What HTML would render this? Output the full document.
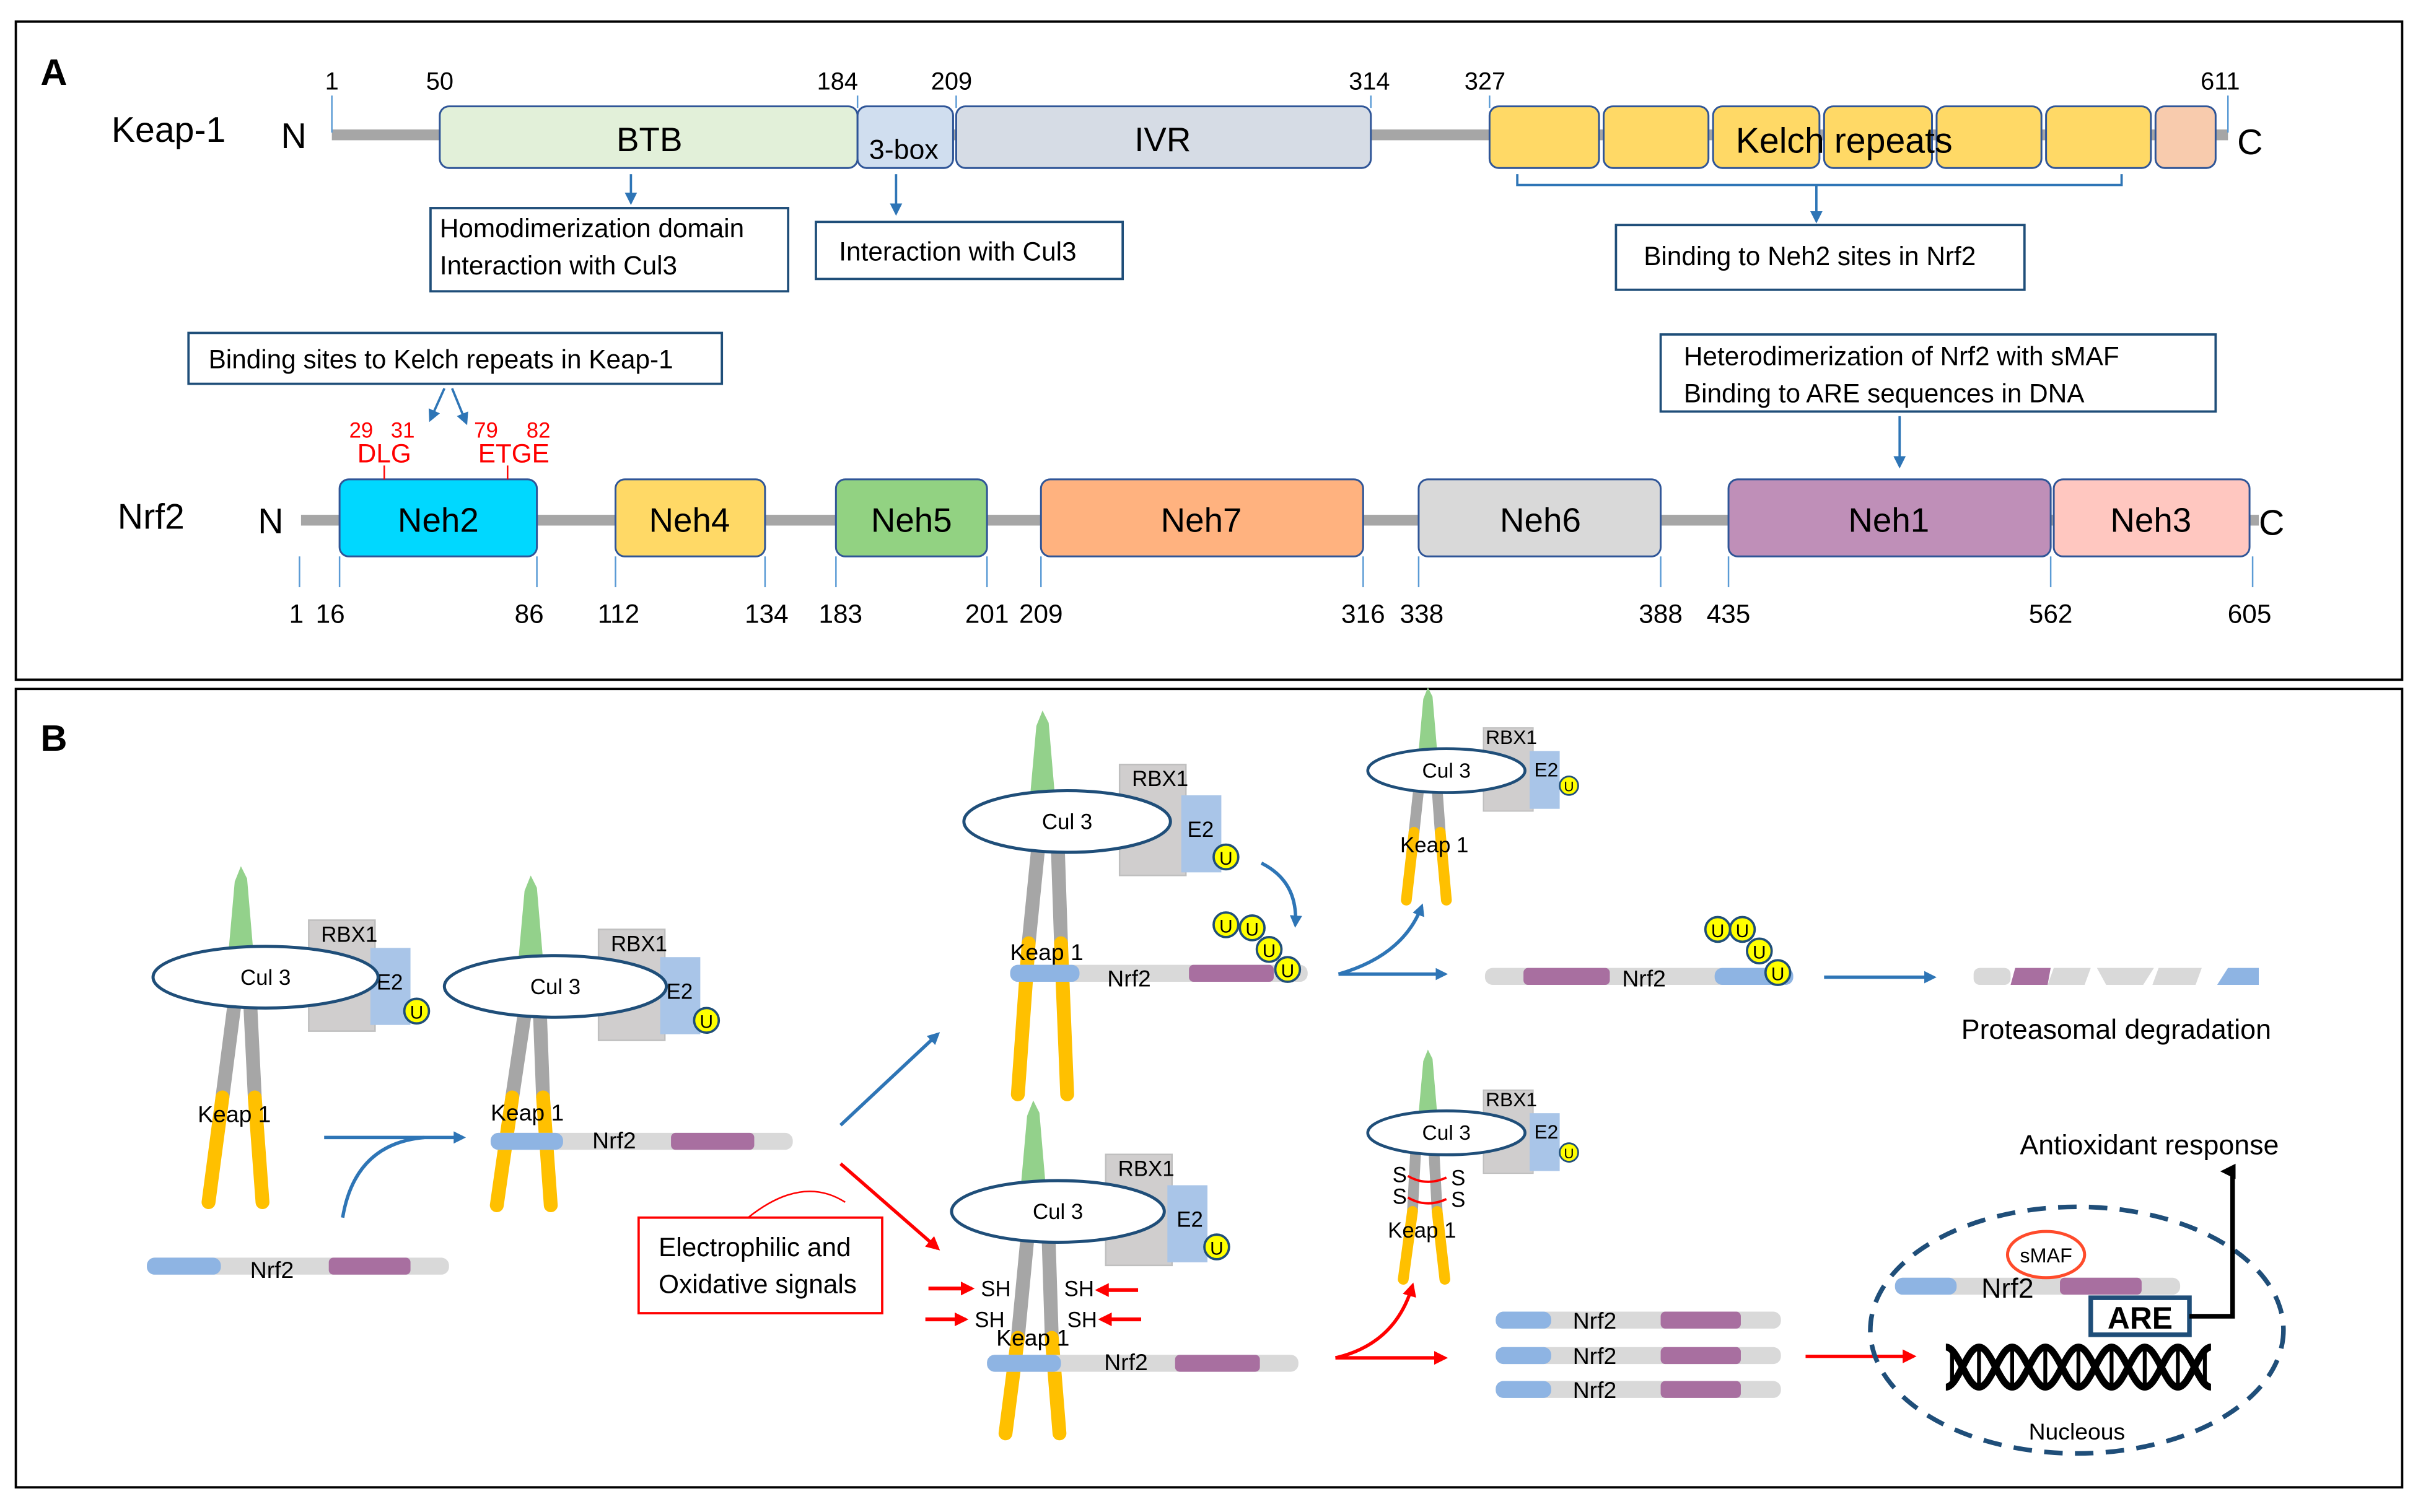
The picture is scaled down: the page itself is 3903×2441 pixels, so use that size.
<!DOCTYPE html>
<html><head><meta charset="utf-8"><style>html,body{margin:0;padding:0;background:#fff}svg{display:block}text{font-family:"Liberation Sans",sans-serif}</style></head><body>
<svg width="3903" height="2441" viewBox="0 0 1568 981" xmlns="http://www.w3.org/2000/svg">
<defs>
<marker id="ab" markerWidth="8" markerHeight="8" refX="6" refY="4" orient="auto" markerUnits="userSpaceOnUse"><path d="M0,0 L8,4 L0,8 Z" fill="#2e75b6"/></marker>
<marker id="ar" markerWidth="9" markerHeight="9" refX="7" refY="4.5" orient="auto" markerUnits="userSpaceOnUse"><path d="M0,0 L9,4.5 L0,9 Z" fill="#ff0000"/></marker>
<marker id="ak" markerWidth="10" markerHeight="10" refX="5" refY="8" orient="auto" markerUnits="userSpaceOnUse"><path d="M0,10 L5,0 L10,10 Z" fill="#000"/></marker>
</defs>
<rect width="1568" height="981" fill="#fff"/>
<rect x="10" y="14" width="1548" height="427" fill="none" stroke="#000" stroke-width="1.5"/>
<rect x="10" y="447" width="1548" height="518" fill="none" stroke="#000" stroke-width="1.5"/>
<text x="26" y="55" font-size="24" font-weight="bold">A</text>
<text x="26" y="487" font-size="24" font-weight="bold">B</text>

<!-- Keap-1 -->
<text x="72" y="92" font-size="23">Keap-1</text>
<text x="182" y="96" font-size="23">N</text>
<text x="1451" y="100" font-size="23">C</text>
<rect x="215" y="84" width="1230" height="7" fill="#a6a6a6"/>
<g stroke="#2f5597" stroke-width="1.2">
<rect x="285" y="69" width="271" height="40" rx="6" fill="#e2f0d9"/>
<rect x="556" y="69" width="62" height="40" rx="6" fill="#d0deef"/>
<rect x="620" y="69" width="269" height="40" rx="6" fill="#d6dce5"/>
<rect x="966" y="69" width="71" height="40" rx="6" fill="#ffd966"/>
<rect x="1040" y="69" width="68" height="40" rx="6" fill="#ffd966"/>
<rect x="1111" y="69" width="69" height="40" rx="6" fill="#ffd966"/>
<rect x="1183" y="69" width="70" height="40" rx="6" fill="#ffd966"/>
<rect x="1256" y="69" width="68" height="40" rx="6" fill="#ffd966"/>
<rect x="1327" y="69" width="68" height="40" rx="6" fill="#ffd966"/>
<rect x="1398" y="69" width="39" height="40" rx="6" fill="#f8cbad"/>
</g>
<text x="421" y="98" font-size="22" text-anchor="middle">BTB</text>
<text x="586" y="103" font-size="18" text-anchor="middle">3-box</text>
<text x="754" y="98" font-size="22" text-anchor="middle">IVR</text>
<text x="1196" y="99" font-size="23" text-anchor="middle">Kelch repeats</text>
<g font-size="16" text-anchor="middle">
<text x="215" y="58">1</text><text x="285" y="58">50</text><text x="543" y="58">184</text><text x="617" y="58">209</text><text x="888" y="58">314</text><text x="963" y="58">327</text><text x="1440" y="58">611</text>
</g>
<g stroke="#5b9bd5" stroke-width="1"><line x1="215" y1="62" x2="215" y2="86"/><line x1="556" y1="62" x2="556" y2="70"/><line x1="620" y1="62" x2="620" y2="70"/><line x1="889" y1="62" x2="889" y2="70"/><line x1="966" y1="62" x2="966" y2="70"/><line x1="1445" y1="62" x2="1445" y2="86"/></g>
<g stroke="#2e75b6" stroke-width="1.5" fill="none">
<line x1="409" y1="113" x2="409" y2="131" marker-end="url(#ab)"/>
<line x1="581" y1="113" x2="581" y2="138" marker-end="url(#ab)"/>
<path d="M984,113 L984,120 L1376,120 L1376,113"/>
<line x1="1178" y1="120" x2="1178" y2="143" marker-end="url(#ab)"/>
</g>
<g stroke="#1f4e79" stroke-width="1.5" fill="#fff">
<rect x="279" y="135" width="232" height="54"/>
<rect x="529" y="144" width="199" height="37"/>
<rect x="1048" y="146" width="265" height="42"/>
<rect x="122" y="216" width="346" height="33"/>
<rect x="1077" y="217" width="360" height="50"/>
</g>
<g font-size="17">
<text x="285" y="154">Homodimerization domain</text><text x="285" y="178">Interaction with Cul3</text>
<text x="544" y="169">Interaction with Cul3</text>
<text x="1066" y="172">Binding to Neh2 sites in Nrf2</text>
<text x="135" y="239">Binding sites to Kelch repeats in Keap-1</text>
<text x="1092" y="237">Heterodimerization of Nrf2 with sMAF</text><text x="1092" y="261">Binding to ARE sequences in DNA</text>
</g>
<g stroke="#2e75b6" stroke-width="1.5"><line x1="288" y1="252" x2="279" y2="272" marker-end="url(#ab)"/><line x1="293" y1="252" x2="302" y2="274" marker-end="url(#ab)"/><line x1="1232" y1="270" x2="1232" y2="302" marker-end="url(#ab)"/></g>

<!-- Nrf2 domains -->
<text x="76" y="343" font-size="23">Nrf2</text>
<text x="167" y="346" font-size="23">N</text>
<text x="1465" y="347" font-size="23">C</text>
<rect x="195" y="334" width="1270" height="7" fill="#a6a6a6"/>
<g stroke="#2f5597" stroke-width="1.2">
<rect x="220" y="311" width="128" height="50" rx="6" fill="#00d8ff"/>
<rect x="399" y="311" width="97" height="50" rx="6" fill="#ffd966"/>
<rect x="542" y="311" width="98" height="50" rx="6" fill="#92d282"/>
<rect x="675" y="311" width="209" height="50" rx="6" fill="#ffb27f"/>
<rect x="920" y="311" width="157" height="50" rx="6" fill="#d9d9d9"/>
<rect x="1121" y="311" width="209" height="50" rx="6" fill="#bf8fb8"/>
<rect x="1332" y="311" width="127" height="50" rx="6" fill="#ffc7c0"/>
</g>
<g font-size="22" text-anchor="middle">
<text x="284" y="345">Neh2</text><text x="447" y="345">Neh4</text><text x="591" y="345">Neh5</text><text x="779" y="345">Neh7</text><text x="999" y="345">Neh6</text><text x="1225" y="345">Neh1</text><text x="1395" y="345">Neh3</text>
</g>
<g fill="#ff0000" text-anchor="middle"><text x="234" y="284" font-size="14">29</text><text x="261" y="284" font-size="14">31</text><text x="315" y="284" font-size="14">79</text><text x="349" y="284" font-size="14">82</text>
<text x="249" y="300" font-size="17">DLG</text><text x="333" y="300" font-size="17">ETGE</text></g>
<g stroke="#ff0000" stroke-width="1"><line x1="249" y1="302" x2="249" y2="311"/><line x1="329" y1="302" x2="329" y2="311"/></g>
<g stroke="#5b9bd5" stroke-width="1"><line x1="194" y1="361" x2="194" y2="381"/><line x1="220" y1="361" x2="220" y2="381"/><line x1="348" y1="361" x2="348" y2="381"/><line x1="399" y1="361" x2="399" y2="381"/><line x1="496" y1="361" x2="496" y2="381"/><line x1="542" y1="361" x2="542" y2="381"/><line x1="640" y1="361" x2="640" y2="381"/><line x1="675" y1="361" x2="675" y2="381"/><line x1="884" y1="361" x2="884" y2="381"/><line x1="920" y1="361" x2="920" y2="381"/><line x1="1077" y1="361" x2="1077" y2="381"/><line x1="1121" y1="361" x2="1121" y2="381"/><line x1="1330" y1="361" x2="1330" y2="381"/><line x1="1461" y1="361" x2="1461" y2="381"/></g>
<g font-size="17" text-anchor="middle">
<text x="192" y="404">1</text><text x="214" y="404">16</text><text x="343" y="404">86</text><text x="401" y="404">112</text><text x="497" y="404">134</text><text x="545" y="404">183</text><text x="640" y="404">201</text><text x="675" y="404">209</text><text x="884" y="404">316</text><text x="922" y="404">338</text><text x="1077" y="404">388</text><text x="1121" y="404">435</text><text x="1330" y="404">562</text><text x="1459" y="404">605</text>
</g>

<!-- Panel B complexes: legs -->
<g stroke-linecap="round" stroke-width="9" fill="none">
<line x1="152" y1="650" x2="144" y2="712" stroke="#a6a6a6"/><line x1="144" y1="712" x2="135" y2="780" stroke="#ffc000"/>
<line x1="162" y1="650" x2="165" y2="712" stroke="#a6a6a6"/><line x1="165" y1="712" x2="170" y2="780" stroke="#ffc000"/>
<line x1="340" y1="658" x2="332" y2="712" stroke="#a6a6a6"/><line x1="332" y1="712" x2="322" y2="782" stroke="#ffc000"/>
<line x1="350" y1="658" x2="352" y2="712" stroke="#a6a6a6"/><line x1="352" y1="712" x2="357" y2="782" stroke="#ffc000"/>
<line x1="673" y1="552" x2="667" y2="612" stroke="#a6a6a6"/><line x1="667" y1="612" x2="660" y2="710" stroke="#ffc000"/>
<line x1="686" y1="552" x2="688" y2="612" stroke="#a6a6a6"/><line x1="688" y1="612" x2="692" y2="710" stroke="#ffc000"/>
<line x1="920" y1="512" x2="917" y2="540" stroke="#a6a6a6" stroke-width="7"/><line x1="917" y1="540" x2="912" y2="584" stroke="#ffc000" stroke-width="7"/>
<line x1="932" y1="512" x2="934" y2="540" stroke="#a6a6a6" stroke-width="7"/><line x1="934" y1="540" x2="938" y2="584" stroke="#ffc000" stroke-width="7"/>
<line x1="666" y1="805" x2="660" y2="868" stroke="#a6a6a6"/><line x1="660" y1="868" x2="652" y2="930" stroke="#ffc000"/>
<line x1="680" y1="805" x2="682" y2="868" stroke="#a6a6a6"/><line x1="682" y1="868" x2="687" y2="930" stroke="#ffc000"/>
<line x1="918" y1="748" x2="916" y2="786" stroke="#a6a6a6" stroke-width="7"/><line x1="916" y1="786" x2="910" y2="830" stroke="#ffc000" stroke-width="7"/>
<line x1="930" y1="748" x2="932" y2="786" stroke="#a6a6a6" stroke-width="7"/><line x1="932" y1="786" x2="937" y2="830" stroke="#ffc000" stroke-width="7"/>
</g>

<!-- complex heads -->
<g transform="translate(172,634)">
<path d="M-24,-17 L-20,-62 L-16,-72 L-12,-64 L-8,-17 Z" fill="#93d18b"/>
<rect x="28" y="-37" width="43" height="72" fill="#d0cece" stroke="#bfbfbf"/><rect x="68" y="-19" width="26" height="50" fill="#a9c5e8"/>
<text x="36" y="-23" font-size="14">RBX1</text><text x="72" y="8" font-size="14">E2</text>
<circle cx="98" cy="22" r="8" fill="#ffff00" stroke="#1f4e79" stroke-width="1.5"/><text x="98" y="27" font-size="12" text-anchor="middle">U</text>
<ellipse cx="0" cy="0" rx="73" ry="20" fill="#fff" stroke="#1f4e79" stroke-width="2"/><text x="0" y="5" font-size="14" text-anchor="middle">Cul 3</text>
</g>
<g transform="translate(360,640)">
<path d="M-24,-17 L-20,-62 L-16,-72 L-12,-64 L-8,-17 Z" fill="#93d18b"/>
<rect x="28" y="-37" width="43" height="72" fill="#d0cece" stroke="#bfbfbf"/><rect x="68" y="-19" width="26" height="50" fill="#a9c5e8"/>
<text x="36" y="-23" font-size="14">RBX1</text><text x="72" y="8" font-size="14">E2</text>
<circle cx="98" cy="22" r="8" fill="#ffff00" stroke="#1f4e79" stroke-width="1.5"/><text x="98" y="27" font-size="12" text-anchor="middle">U</text>
<ellipse cx="0" cy="0" rx="72" ry="20" fill="#fff" stroke="#1f4e79" stroke-width="2"/><text x="0" y="5" font-size="14" text-anchor="middle">Cul 3</text>
</g>
<g transform="translate(692,533)">
<path d="M-24,-17 L-20,-62 L-16,-72 L-12,-64 L-8,-17 Z" fill="#93d18b"/>
<rect x="34" y="-37" width="43" height="72" fill="#d0cece" stroke="#bfbfbf"/><rect x="74" y="-17" width="26" height="50" fill="#a9c5e8"/>
<text x="42" y="-23" font-size="14">RBX1</text><text x="78" y="10" font-size="14">E2</text>
<circle cx="103" cy="23" r="8" fill="#ffff00" stroke="#1f4e79" stroke-width="1.5"/><text x="103" y="28" font-size="12" text-anchor="middle">U</text>
<ellipse cx="0" cy="0" rx="67" ry="20" fill="#fff" stroke="#1f4e79" stroke-width="2"/><text x="0" y="5" font-size="14" text-anchor="middle">Cul 3</text>
</g>
<g transform="translate(686,786)">
<path d="M-24,-17 L-20,-62 L-16,-72 L-12,-64 L-8,-17 Z" fill="#93d18b"/>
<rect x="31" y="-37" width="43" height="72" fill="#d0cece" stroke="#bfbfbf"/><rect x="71" y="-17" width="26" height="50" fill="#a9c5e8"/>
<text x="39" y="-23" font-size="14">RBX1</text><text x="77" y="10" font-size="14">E2</text>
<circle cx="103" cy="23" r="8" fill="#ffff00" stroke="#1f4e79" stroke-width="1.5"/><text x="103" y="28" font-size="12" text-anchor="middle">U</text>
<ellipse cx="0" cy="0" rx="69" ry="20" fill="#fff" stroke="#1f4e79" stroke-width="2"/><text x="0" y="5" font-size="14" text-anchor="middle">Cul 3</text>
</g>
<g transform="translate(938,500) scale(0.75)">
<path d="M-24,-17 L-20,-62 L-16,-72 L-12,-64 L-8,-17 Z" fill="#93d18b"/>
<rect x="32" y="-37" width="43" height="72" fill="#d0cece" stroke="#bfbfbf"/><rect x="72" y="-17" width="26" height="50" fill="#a9c5e8"/>
<text x="34" y="-23" font-size="17">RBX1</text><text x="76" y="5" font-size="17">E2</text>
<circle cx="106" cy="13" r="8" fill="#ffff00" stroke="#1f4e79" stroke-width="1.5"/><text x="106" y="18" font-size="12" text-anchor="middle">U</text>
<ellipse cx="0" cy="0" rx="68" ry="19" fill="#fff" stroke="#1f4e79" stroke-width="2.5"/><text x="0" y="6" font-size="18" text-anchor="middle">Cul 3</text>
</g>
<g transform="translate(938,735) scale(0.75)">
<path d="M-24,-17 L-20,-62 L-16,-72 L-12,-64 L-8,-17 Z" fill="#93d18b"/>
<rect x="32" y="-37" width="43" height="72" fill="#d0cece" stroke="#bfbfbf"/><rect x="72" y="-17" width="26" height="50" fill="#a9c5e8"/>
<text x="34" y="-23" font-size="17">RBX1</text><text x="76" y="5" font-size="17">E2</text>
<circle cx="106" cy="17" r="8" fill="#ffff00" stroke="#1f4e79" stroke-width="1.5"/><text x="106" y="22" font-size="12" text-anchor="middle">U</text>
<ellipse cx="0" cy="0" rx="68" ry="19" fill="#fff" stroke="#1f4e79" stroke-width="2.5"/><text x="0" y="6" font-size="18" text-anchor="middle">Cul 3</text>
</g>

<!-- Nrf2 strands -->
<g>
<rect x="95" y="816" width="196" height="11" rx="5" fill="#d9d9d9"/><rect x="95" y="816" width="48" height="11" rx="5" fill="#8eb4e3"/><rect x="213" y="816" width="53" height="11" rx="3" fill="#a86fa0"/>
<rect x="318" y="735" width="196" height="11" rx="5" fill="#d9d9d9"/><rect x="318" y="735" width="47" height="11" rx="5" fill="#8eb4e3"/><rect x="435" y="735" width="54" height="11" rx="3" fill="#a86fa0"/>
<rect x="655" y="626" width="193" height="11" rx="5" fill="#d9d9d9"/><rect x="655" y="626" width="45" height="11" rx="5" fill="#8eb4e3"/><rect x="771" y="626" width="55" height="11" rx="3" fill="#a86fa0"/>
<rect x="640" y="879" width="202" height="11" rx="5" fill="#d9d9d9"/><rect x="640" y="879" width="48" height="11" rx="5" fill="#8eb4e3"/><rect x="762" y="879" width="55" height="11" rx="3" fill="#a86fa0"/>
<rect x="963" y="628" width="200" height="11" rx="5" fill="#d9d9d9"/><rect x="988" y="628" width="56" height="11" rx="3" fill="#a86fa0"/><rect x="1112" y="628" width="51" height="11" rx="5" fill="#8eb4e3"/>
<rect x="970" y="851" width="185" height="11" rx="5" fill="#d9d9d9"/><rect x="970" y="851" width="36" height="11" rx="5" fill="#8eb4e3"/><rect x="1077" y="851" width="52" height="11" rx="3" fill="#a86fa0"/>
<rect x="970" y="874" width="185" height="11" rx="5" fill="#d9d9d9"/><rect x="970" y="874" width="36" height="11" rx="5" fill="#8eb4e3"/><rect x="1077" y="874" width="52" height="11" rx="3" fill="#a86fa0"/>
<rect x="970" y="896" width="185" height="11" rx="5" fill="#d9d9d9"/><rect x="970" y="896" width="36" height="11" rx="5" fill="#8eb4e3"/><rect x="1077" y="896" width="52" height="11" rx="3" fill="#a86fa0"/>
<rect x="1229" y="829" width="185" height="11" rx="5" fill="#d9d9d9"/><rect x="1229" y="829" width="40" height="11" rx="5" fill="#8eb4e3"/><rect x="1336" y="829" width="53" height="11" rx="3" fill="#a86fa0"/>
<rect x="1280" y="628" width="24" height="11" rx="4" fill="#d9d9d9"/><polygon points="1307,628 1330,628 1328,639 1304,639" fill="#a86fa0"/><polygon points="1332,628 1356,628 1352,639 1328,639" fill="#d9d9d9"/>
<polygon points="1360,628 1397,628 1390,639 1366,639" fill="#d9d9d9"/><polygon points="1400,628 1428,628 1424,639 1396,639" fill="#d9d9d9"/><polygon points="1445,628 1465,628 1465,639 1438,639" fill="#8eb4e3"/>
</g>
<g font-size="15">
<text x="162" y="829">Nrf2</text><text x="384" y="745">Nrf2</text><text x="718" y="640">Nrf2</text><text x="716" y="889">Nrf2</text><text x="1052" y="640">Nrf2</text>
<text x="1020" y="862">Nrf2</text><text x="1020" y="885">Nrf2</text><text x="1020" y="907">Nrf2</text>
<text x="128" y="728">Keap 1</text><text x="318" y="727">Keap 1</text><text x="655" y="623">Keap 1</text><text x="908" y="553" font-size="14">Keap 1</text><text x="646" y="873">Keap 1</text><text x="900" y="803" font-size="14">Keap 1</text>
</g>
<text x="1285" y="842" font-size="18">Nrf2</text>
<g font-size="12" text-anchor="middle">
<circle cx="795" cy="600" r="8" fill="#ff0" stroke="#1f4e79" stroke-width="1.5"/><text x="795" y="605">U</text>
<circle cx="812" cy="602" r="8" fill="#ff0" stroke="#1f4e79" stroke-width="1.5"/><text x="812" y="607">U</text>
<circle cx="823" cy="616" r="8" fill="#ff0" stroke="#1f4e79" stroke-width="1.5"/><text x="823" y="621">U</text>
<circle cx="835" cy="629" r="8" fill="#ff0" stroke="#1f4e79" stroke-width="1.5"/><text x="835" y="634">U</text>
<circle cx="1114" cy="603" r="8" fill="#ff0" stroke="#1f4e79" stroke-width="1.5"/><text x="1114" y="608">U</text>
<circle cx="1130" cy="603" r="8" fill="#ff0" stroke="#1f4e79" stroke-width="1.5"/><text x="1130" y="608">U</text>
<circle cx="1141" cy="617" r="8" fill="#ff0" stroke="#1f4e79" stroke-width="1.5"/><text x="1141" y="622">U</text>
<circle cx="1153" cy="631" r="8" fill="#ff0" stroke="#1f4e79" stroke-width="1.5"/><text x="1153" y="636">U</text>
</g>
<g font-size="14"><text x="636" y="841">SH</text><text x="690" y="841">SH</text><text x="632" y="861">SH</text><text x="692" y="861">SH</text>
<text x="903" y="767">S</text><text x="941" y="769">S</text><text x="903" y="781">S</text><text x="941" y="783">S</text></g>
<g stroke="#ff0000" stroke-width="1.5" fill="none"><path d="M913,763 Q925,770 938,764"/><path d="M913,777 Q925,784 938,778"/></g>
<g stroke="#ff0000" stroke-width="2.5"><line x1="602" y1="836" x2="630" y2="836" marker-end="url(#ar)"/><line x1="600" y1="856" x2="626" y2="856" marker-end="url(#ar)"/><line x1="738" y1="837" x2="712" y2="837" marker-end="url(#ar)"/><line x1="740" y1="856" x2="714" y2="856" marker-end="url(#ar)"/></g>

<g stroke="#2e75b6" stroke-width="2.2" fill="none">
<line x1="210" y1="738" x2="300" y2="738" marker-end="url(#ab)"/>
<path d="M222,790 Q230,742 275,738"/>
<line x1="545" y1="730" x2="608" y2="671" marker-end="url(#ab)"/>
<path d="M818,560 Q842,572 840,600" marker-end="url(#ab)"/>
<line x1="868" y1="632" x2="937" y2="632" marker-end="url(#ab)"/>
<path d="M868,632 Q910,620 922,588" marker-end="url(#ab)"/>
<line x1="1183" y1="634" x2="1254" y2="634" marker-end="url(#ab)"/>
</g>
<g stroke="#ff0000" stroke-width="2.2" fill="none">
<line x1="545" y1="755" x2="608" y2="810" marker-end="url(#ar)"/>
<line x1="866" y1="881" x2="937" y2="881" marker-end="url(#ar)"/>
<path d="M866,881 Q905,872 916,834" marker-end="url(#ar)"/>
<line x1="1171" y1="880" x2="1241" y2="880" marker-end="url(#ar)"/>
<path d="M485,790 Q520,762 548,780" stroke-width="1"/>
</g>
<rect x="414" y="790" width="158" height="62" fill="#fff" stroke="#ff0000" stroke-width="1.5"/>
<text x="427" y="815" font-size="17">Electrophilic and</text><text x="427" y="839" font-size="17">Oxidative signals</text>
<text x="1272" y="674" font-size="18">Proteasomal degradation</text>
<ellipse cx="1347" cy="863" rx="134" ry="80" fill="none" stroke="#1f4e79" stroke-width="3" stroke-dasharray="12,8"/>
<ellipse cx="1327" cy="814" rx="25" ry="15" fill="#fff" stroke="#ff4b2b" stroke-width="2"/>
<text x="1327" y="819" font-size="13" text-anchor="middle">sMAF</text>
<g stroke="#000" stroke-width="4.5" fill="none">
<path d="M1262,874 C1270,874 1275.5,900 1283.5,900 C1291.5,900 1297,874 1305,874 C1313,874 1318.5,900 1326.5,900 C1334.5,900 1340,874 1348,874 C1356,874 1361.5,900 1369.5,900 C1377.5,900 1383,874 1391,874 C1399,874 1404.5,900 1412.5,900 C1420.5,900 1426,874 1434,874"/>
<path d="M1262,900 C1270,900 1275.5,874 1283.5,874 C1291.5,874 1297,900 1305,900 C1313,900 1318.5,874 1326.5,874 C1334.5,874 1340,900 1348,900 C1356,900 1361.5,874 1369.5,874 C1377.5,874 1383,900 1391,900 C1399,900 1404.5,874 1412.5,874 C1420.5,874 1426,900 1434,900"/>
</g>
<g stroke="#000" stroke-width="2.5">
<line x1="1266" y1="876" x2="1266" y2="898"/><line x1="1283.5" y1="876" x2="1283.5" y2="898"/><line x1="1305" y1="876" x2="1305" y2="898"/><line x1="1326.5" y1="876" x2="1326.5" y2="898"/>
<line x1="1348" y1="876" x2="1348" y2="898"/><line x1="1369.5" y1="876" x2="1369.5" y2="898"/><line x1="1391" y1="876" x2="1391" y2="898"/><line x1="1412.5" y1="876" x2="1412.5" y2="898"/><line x1="1430" y1="876" x2="1430" y2="898"/>
</g>
<rect x="1356" y="842" width="64" height="24" fill="#fff" stroke="#1f4e79" stroke-width="3"/>
<text x="1388" y="862" font-size="20" font-weight="bold" text-anchor="middle">ARE</text>
<path d="M1420,854 L1448,854 L1448,760" fill="none" stroke="#000" stroke-width="3" marker-end="url(#ak)"/>
<text x="1310" y="749" font-size="18">Antioxidant response</text>
<text x="1347" y="934" font-size="15" text-anchor="middle">Nucleous</text>
</svg>
</body></html>
